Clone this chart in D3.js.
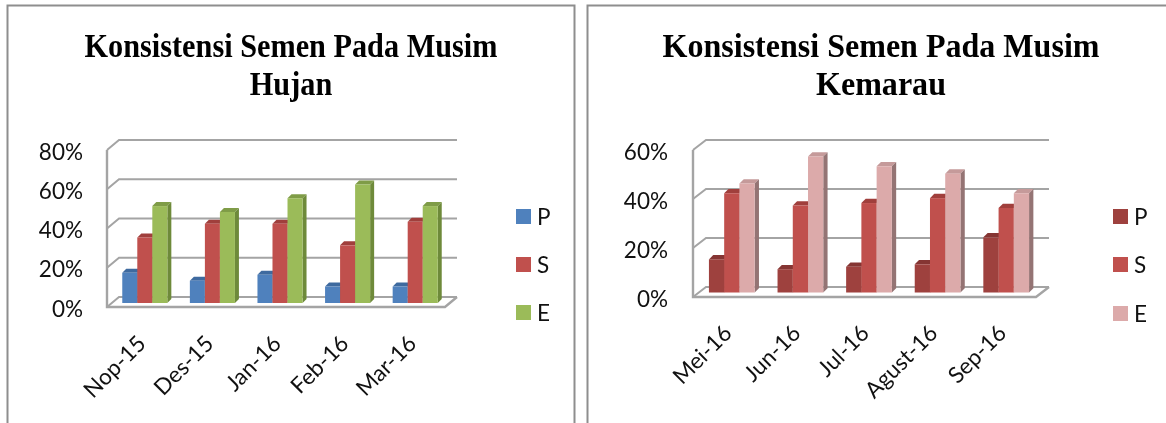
<!DOCTYPE html>
<html><head><meta charset="utf-8">
<script src="https://cdn.jsdelivr.net/npm/d3@7/dist/d3.min.js"></script>
<style>
html,body{margin:0;padding:0;background:#fff;overflow:hidden}
svg{display:block;filter:blur(0.35px)}
text{fill:#111}
.lab{font-family:Lato,"Open Sans",sans-serif;font-size:22.5px}
.title{font-family:"Liberation Serif",serif;font-weight:bold;font-size:33px;fill:#000}
</style></head><body>
<svg id="c" width="1166" height="423"></svg>
<script>
const seriesNames = ["P","S","E"];

const hujanTitle = ["Konsistensi Semen Pada Musim","Hujan"];
const hujanMonths = ["Nop-15","Des-15","Jan-16","Feb-16","Mar-16"];
const hujanP = [16,12,15,9,9];
const hujanS = [34,41,41,30,42];
const hujanE = [50,47,54,61,50];
const hujanTicks = [0,20,40,60,80];

const kemarauTitle = ["Konsistensi Semen Pada Musim","Kemarau"];
const kemarauMonths = ["Mei-16","Jun-16","Jul-16","Agust-16","Sep-16"];
const kemarauP = [14,10,11,12,23];
const kemarauS = [41,36,37,39,35];
const kemarauE = [45,56,52,49,41];
const kemarauTicks = [0,20,40,60];

const svg = d3.select("#c");
const GRID = "#a4a4a4", FRAME = "#8e8e8e";

function path(g, d, fill, stroke, w){
  g.append("path").attr("d", d).attr("fill", fill||"none")
   .attr("stroke", stroke||"none").attr("stroke-width", w||0);
}

function chart(o){
  const g = svg.append("g");
  const x = d3.scaleBand().domain(o.months).range([o.x0,o.x1]).paddingInner(1/3).paddingOuter(1/6);
  const inner = d3.scaleBand().domain(seriesNames).range([0,x.bandwidth()]);
  const y = d3.scaleLinear().domain([0,o.max]).range([o.y0,o.y1]);
  const ticks = o.ticks;
  const dx = o.depthX, dy = o.depthY;

  // walls
  ticks.forEach(t=>{
    const yy = y(t);
    path(g, `M${o.x0},${yy}L${o.x0+dx},${yy-dy}H${o.x1+dx}`, "none", GRID, 2);
  });
  path(g, `M${o.x0},${y(o.max)}V${o.y0}H${o.x1}L${o.x1+dx},${o.y0-dy}`, "none", GRID, 2.4);

  // bars
  const bd = o.barDepth;
  o.months.forEach((m,i)=>{
    seriesNames.forEach((s,k)=>{
      const v = o.values[k][i];
      const bx = x(m)+inner(s)+o.shift, bw = inner.bandwidth();
      const top = y(v)-o.shift+1.2, base = y(0)-o.shift;
      const c = o.colors[k];
      path(g, `M${bx},${top}l${bd},${-bd}h${bw}l${-bd},${bd}z`, c.top);
      path(g, `M${bx+bw},${top}l${bd},${-bd}V${base-bd}l${-bd},${bd}z`, c.side);
      g.append("rect").attr("x",bx).attr("y",top).attr("width",bw).attr("height",base-top).attr("fill",c.face);
    });
  });

  // value axis, labels only
  const ya = d3.axisLeft(y).tickValues(ticks).tickFormat(d=>d+"%").tickSize(0).tickPadding(0);
  const ag = g.append("g").attr("transform",`translate(${o.labelX},2)`).call(ya);
  ag.select(".domain").remove();
  ag.selectAll("text").attr("class","lab").style("fill","#111");
  ag.attr("font-family",null).attr("font-size",null);

  // category labels
  o.months.forEach(m=>{
    const px = x(m)+x.bandwidth()/2+o.catDx, py = o.catY;
    g.append("text").attr("class","lab").attr("text-anchor","end")
      .attr("transform",`translate(${px},${py}) rotate(-45)`).text(m);
  });

  // legend
  seriesNames.forEach((s,k)=>{
    const ly = o.legY[k];
    g.append("rect").attr("x",o.legX).attr("y",ly).attr("width",15).attr("height",15).attr("fill",o.colors[k].face);
    g.append("text").attr("class","lab").attr("x",o.legX+21).attr("y",ly+16).text(s);
  });

  // title
  o.title.forEach((t,i)=>{
    g.append("text").attr("class","title").attr("text-anchor","middle")
      .attr("transform",`translate(${o.titleX},${57+i*37.5}) scale(${o.titleScale},1)`).text(t);
  });
}

// panel frames
path(svg, "M7.5,423V5.5H574.5V423", "none", FRAME, 2);
path(svg, "M587.5,423V5.5H1166", "none", FRAME, 2);

chart({
  title:hujanTitle, titleX:291, titleScale:0.918, months:hujanMonths, values:[hujanP,hujanS,hujanE], ticks:hujanTicks, max:80,
  x0:107,x1:445,y0:307,y1:150,depthX:12,depthY:10,shift:4,barDepth:4,labelX:83,catDx:6.5,catY:345,
  legX:516,legY:[209,257,305],
  colors:[{face:"#4f81bd",side:"#3a6595",top:"#3e6a9f"},{face:"#c0504d",side:"#953d3b",top:"#a03f3c"},{face:"#9bbb59",side:"#6e8a3a",top:"#7f9c47"}]
});
chart({
  title:kemarauTitle, titleX:881, titleScale:0.971, months:kemarauMonths, values:[kemarauP,kemarauS,kemarauE], ticks:kemarauTicks, max:60,
  x0:693,x1:1036,y0:297,y1:150,depthX:13,depthY:10,shift:4.5,barDepth:4.3,labelX:668,catDx:6,catY:334.5,
  legX:1113,legY:[209,257,306],
  colors:[{face:"#9e413e",side:"#7c3230",top:"#853533"},{face:"#c0504d",side:"#953d3b",top:"#a03f3c"},{face:"#dcaaaa",side:"#947474",top:"#c59a9a"}]
});
</script>
</body></html>
